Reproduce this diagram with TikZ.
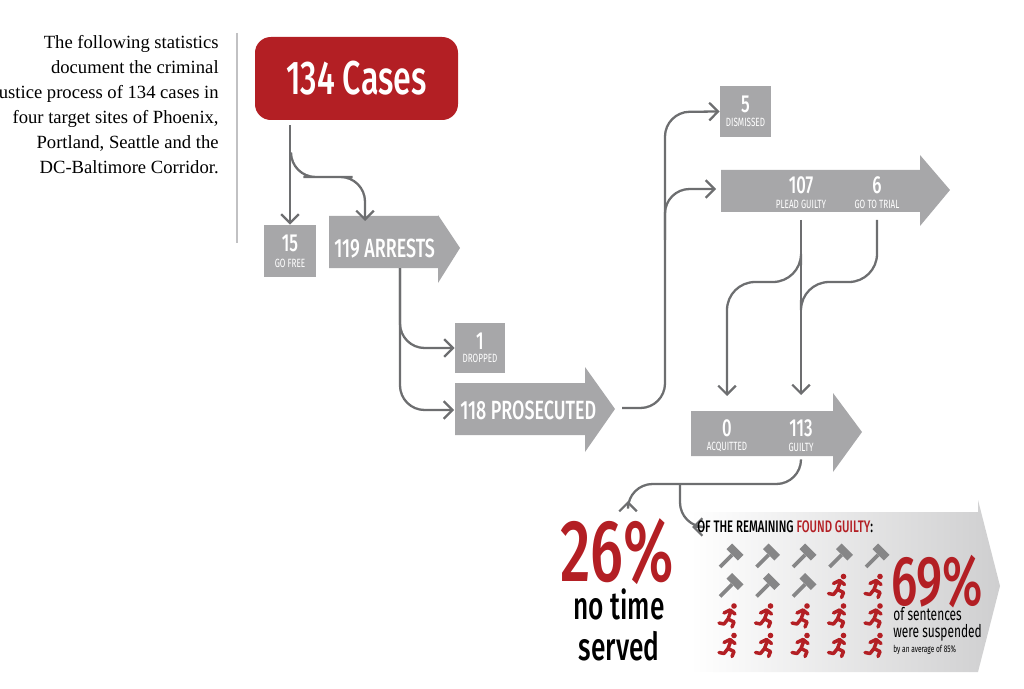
\documentclass[tikz,border=0pt]{standalone}
\usepackage{fontspec}
\setmainfont{Liberation Serif}
\newfontfamily\cond{Fira Sans}[FakeStretch=0.68]
\newfontfamily\condb{Fira Sans Medium}[FakeStretch=0.68]
\usetikzlibrary{positioning,arrows.meta}
\definecolor{casered}{HTML}{B31F24}
\definecolor{boxgray}{HTML}{A7A7A9}
\definecolor{linegray}{HTML}{6D6E70}
\tikzset{
  flow/.style={draw=linegray, line width=1.3pt, rounded corners=14, -{Straight Barb[length=5pt,width=10pt]}},
  stage/.style={fill=boxgray},
  num/.style={text=white, font=\condb\fontsize{14}{14}\selectfont, inner sep=0pt},
  sub/.style={text=white, font=\cond\fontsize{6.8}{6.8}\selectfont, inner sep=0pt},
  big/.style={text=white, font=\condb\fontsize{15}{15}\selectfont, inner sep=0pt},
  gavel/.pic={
    \draw[boxgray!80!black, line width=2.2pt] (-10,10) -- (2,-2);
    \fill[boxgray!80!black] (13.5,-2.1) -- (7.9,3.5) -- (-3.5,-7.9) -- (2.1,-13.5) -- cycle;
  },
  runner/.pic={
    \fill[casered] (4,-10) circle (2.8);
    \draw[casered, line width=2pt, line cap=round, line join=round]
      (1,-5) -- (-2,3) (-6,-3) -- (0,-6) -- (5,-2)
      (-2,3) -- (4,6) -- (2,11) (-2,3) -- (-6,8) -- (-11,7);
  }
}
\begin{document}
\begin{tikzpicture}[x=0.02cm, y=-0.02cm]
  \useasboundingbox (0,0) rectangle (1024,689);

  % intro text
  \node[anchor=north east, align=right, inner sep=0pt, font=\fontsize{10.6}{14.2}\selectfont] (intro) at (219,35)
    {The following statistics\\document the criminal\\justice process of 134 cases in\\four target sites of Phoenix,\\Portland, Seattle and the\\DC-Baltimore Corridor.};
  \draw[boxgray!70, line width=0.8pt] (237,33) -- (237,243);

  % cases
  \node[fill=casered, rounded corners=9, minimum width=203*0.02cm, minimum height=83*0.02cm, text=white,
        font=\condb\fontsize{27}{27}\selectfont] (cases) at (356.5,78.5) {134 Cases};

  % first split
  \node[stage, minimum size=52*0.02cm] (free) at (290,251) {};
  \node[num] (freen) at (290,243) {15};
  \node[sub] (freel) at (290,263) {GO FREE};
  \fill[stage] (329,216) -- (438,216) -- (438,215) -- (460,248) -- (438,283) -- (438,268) -- (329,268) -- cycle;
  \node[big, anchor=west] (arrests) at (334,249) {119 ARRESTS};
  \coordinate (split1) at (291,160);
  \coordinate (arrtop) at (365,221);
  \draw[flow] (cases.south -| free) ++(0,5) coordinate (c0) -- (free.north);
  \draw[flow] (split1) |- (328,177) -| (arrtop);

  % second split
  \node[stage, minimum size=50*0.02cm] (drop) at (480,348) {};
  \node[num] (dropn) at (480,341) {1};
  \node[sub] (dropl) at (480,358) {DROPPED};
  \fill[stage] (455,383) -- (585,383) -- (585,367) -- (615,409) -- (585,452) -- (585,435) -- (455,435) -- cycle;
  \node[big, anchor=west] (pros) at (460,410) {118 PROSECUTED};
  \coordinate (arrbot) at (400,268);
  \draw[flow] (arrbot) |- (drop.west);
  \draw[flow] (arrbot) |- (454,410);

  % third split
  \node[stage, minimum size=51*0.02cm] (dism) at (745.5,111.5) {};
  \node[num] (dismn) at (745.5,104) {5};
  \node[sub] (disml) at (745.5,122) {DISMISSED};
  \fill[stage] (721,170) -- (920,170) -- (920,155) -- (950,190) -- (920,226) -- (920,212) -- (721,212) -- cycle;
  \node[num] (pleadn) at (801,185) {107};
  \node[sub] (pleadl) at (801,204) {PLEAD GUILTY};
  \node[num] (trialn) at (877,185) {6};
  \node[sub] (triall) at (877,204) {GO TO TRIAL};
  \coordinate (prosout) at (622,408);
  \draw[flow] (prosout) -| (665,112) -- (dism.west);
  \draw[flow] (665,240) |- (716,189);

  % verdicts
  \fill[stage] (691,411) -- (833,411) -- (833,393) -- (862,432) -- (833,472) -- (833,456) -- (691,456) -- cycle;
  \node[num] (acqn) at (727,428) {0};
  \node[sub] (acql) at (727,447) {ACQUITTED};
  \node[num] (guiltn) at (801,428) {113};
  \node[sub] (guiltl) at (801,447) {GUILTY};
  \draw[flow] (801,220) -- (801,395);
  \draw[flow, -, rounded corners=16] (877,220) |- (801,282) -- (801,300);
  \draw[flow, rounded corners=16] (801,265) |- (727,282) -- (727,396);

  % outcomes
  \shade[left color=white, right color=boxgray!55] (690,512) -- (978,512) -- (978,500) -- (1000,586) -- (978,672) -- (690,672) -- cycle;
  \draw[flow] (801,460) |- (628,484) -- (628,501);
  \draw[flow] (680,484) |- (692,527);
  \node[anchor=west, inner sep=0pt, font=\condb\fontsize{9.5}{9.5}\selectfont] (remain) at (697,527)
    {OF THE REMAINING \textcolor{casered}{FOUND GUILTY}:};
  \node[text=casered, inner sep=0pt, font=\condb\fontsize{50}{50}\selectfont] (pct26) at (617,552) {26\%};
  \node[inner sep=0pt, align=center, font=\condb\fontsize{22}{23}\selectfont] (notime) at (619,625) {no time\\served};

  \foreach \i in {0,...,19}{
    \pgfmathtruncatemacro{\col}{mod(\i,5)}
    \pgfmathtruncatemacro{\row}{int(\i/5)}
    \ifnum\i<8
      \pic at ({730+36.5*\col},{557+29.5*\row}) {gavel};
    \else
      \pic at ({730+36.5*\col},{557+29.5*\row}) {runner};
    \fi
  }
  \node[anchor=west, text=casered, inner sep=0pt, font=\condb\fontsize{40}{40}\selectfont] (pct69) at (891,582) {69\%};
  \node[anchor=north west, inner sep=0pt, align=left, font=\cond\fontsize{10}{9.5}\selectfont] (susp) at (893,607)
    {of sentences\\were suspended\\[-1pt]{\fontsize{5.5}{6}\selectfont by an average of 85\%}};
\end{tikzpicture}
\end{document}
